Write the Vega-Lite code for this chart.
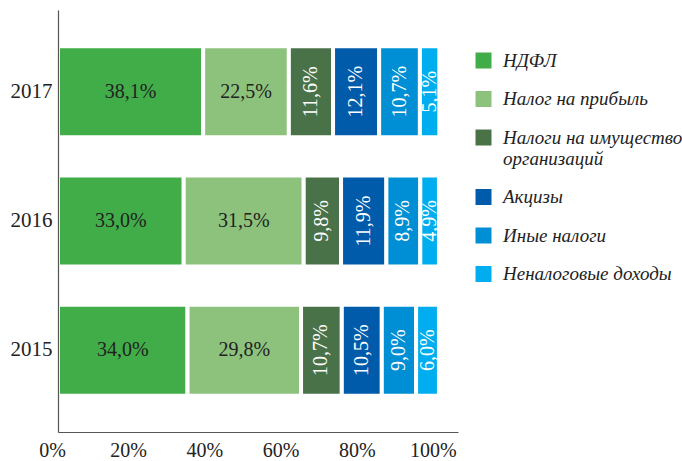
{
  "$schema": "https://vega.github.io/schema/vega-lite/v6.json",
  "width": 400,
  "height": 422,
  "padding": {"left": 58, "top": 10, "right": 224, "bottom": 29},
  "autosize": {"type": "none"},
  "background": "white",
  "config": {
    "view": {"stroke": null},
    "font": "Liberation Serif"
  },
  "data": {
    "values": [
      {"year": "2017", "cat": "НДФЛ", "value": 38.1},
      {"year": "2017", "cat": "Налог на прибыль", "value": 22.5},
      {"year": "2017", "cat": "Налоги на имущество организаций", "value": 11.6},
      {"year": "2017", "cat": "Акцизы", "value": 12.1},
      {"year": "2017", "cat": "Иные налоги", "value": 10.7},
      {"year": "2017", "cat": "Неналоговые доходы", "value": 5.1},
      {"year": "2016", "cat": "НДФЛ", "value": 33.0},
      {"year": "2016", "cat": "Налог на прибыль", "value": 31.5},
      {"year": "2016", "cat": "Налоги на имущество организаций", "value": 9.8},
      {"year": "2016", "cat": "Акцизы", "value": 11.9},
      {"year": "2016", "cat": "Иные налоги", "value": 8.9},
      {"year": "2016", "cat": "Неналоговые доходы", "value": 4.9},
      {"year": "2015", "cat": "НДФЛ", "value": 34.0},
      {"year": "2015", "cat": "Налог на прибыль", "value": 29.8},
      {"year": "2015", "cat": "Налоги на имущество организаций", "value": 10.7},
      {"year": "2015", "cat": "Акцизы", "value": 10.5},
      {"year": "2015", "cat": "Иные налоги", "value": 9.0},
      {"year": "2015", "cat": "Неналоговые доходы", "value": 6.0}
    ]
  },
  "transform": [
    {"calculate": "indexof(['НДФЛ','Налог на прибыль','Налоги на имущество организаций','Акцизы','Иные налоги','Неналоговые доходы'], datum.cat)", "as": "k"},
    {"stack": "value", "groupby": ["year"], "sort": [{"field": "k", "order": "ascending"}], "as": ["x0", "x1"]},
    {"calculate": "(datum.x0 + datum.x1) / 2", "as": "mid"},
    {"calculate": "replace(format(datum.value, '.1f'), '.', ',') + '%'", "as": "lbl"}
  ],
  "encoding": {
    "y": {
      "field": "year", "type": "nominal",
      "sort": ["2017", "2016", "2015"],
      "scale": {"paddingInner": 0.295, "paddingOuter": 0.28},
      "axis": {
        "title": null, "ticks": false, "labelFontSize": 21, "labelColor": "#222",
        "labelPadding": 6, "domainColor": "#555", "domainWidth": 1.2, "zindex": 1,
        "labelFont": "Liberation Serif"
      }
    }
  },
  "layer": [
    {
      "mark": {"type": "bar", "stroke": "white", "strokeWidth": 4},
      "encoding": {
        "x": {
          "field": "x0", "type": "quantitative",
          "scale": {"domain": [0, 105], "nice": false},
          "axis": {
            "title": null, "ticks": false, "grid": false, "values": [0, 20, 40, 60, 80, 100],
            "labelExpr": "datum.value + '%'", "labelFontSize": 20, "labelColor": "#222",
            "labelPadding": 8, "labelOffset": -6, "domainColor": "#555", "domainWidth": 1.2, "zindex": 1,
            "labelFont": "Liberation Serif", "labelFlush": false
          }
        },
        "x2": {"field": "x1"},
        "color": {
          "field": "cat", "type": "nominal",
          "scale": {
            "domain": ["НДФЛ", "Налог на прибыль", "Налоги на имущество организаций", "Акцизы", "Иные налоги", "Неналоговые доходы"],
            "range": ["#41AD49", "#8DC27D", "#4A7248", "#005BAA", "#008FD5", "#00AEEF"]
          },
          "legend": {
            "title": null, "orient": "none", "legendX": 416, "legendY": 41,
            "symbolType": "square", "symbolSize": 256, "symbolStrokeWidth": 0,
            "labelFont": "Liberation Serif", "labelFontStyle": "italic", "labelFontSize": 19,
            "labelColor": "#222", "labelOffset": 10, "rowPadding": 18.5, "labelLimit": 300,
            "labelLineHeight": 18,
            "labelExpr": "datum.label == 'Налоги на имущество организаций' ? ['Налоги на имущество', 'организаций'] : datum.label"
          }
        }
      }
    },
    {
      "transform": [{"filter": "datum.k < 2"}],
      "mark": {"type": "text", "fontSize": 20, "color": "#222", "font": "Liberation Serif"},
      "encoding": {
        "x": {"field": "mid", "type": "quantitative"},
        "text": {"field": "lbl"}
      }
    },
    {
      "transform": [{"filter": "datum.k >= 2"}],
      "mark": {"type": "text", "fontSize": 20, "color": "white", "angle": 270, "font": "Liberation Serif"},
      "encoding": {
        "x": {"field": "mid", "type": "quantitative"},
        "text": {"field": "lbl"}
      }
    }
  ]
}
